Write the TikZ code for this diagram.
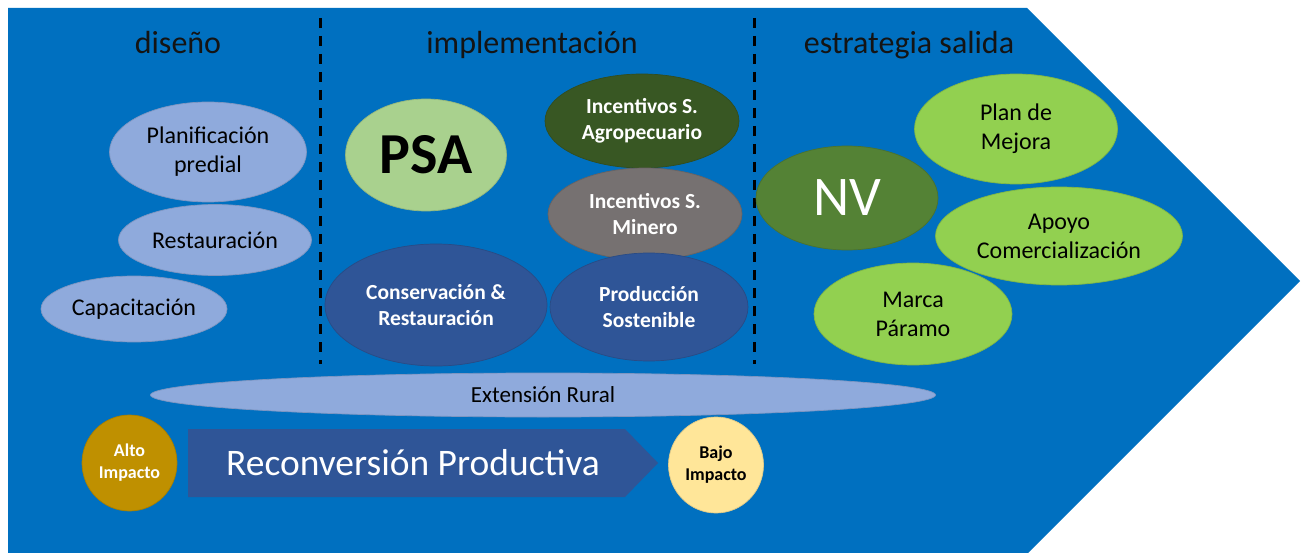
\documentclass[tikz,border=0pt]{standalone}
\usepackage{fontspec}
\setmainfont{Carlito}
\usetikzlibrary{shapes.geometric}
\definecolor{bgblue}{HTML}{0070C0}
\definecolor{lblue}{HTML}{8FAADC}
\definecolor{psagreen}{HTML}{A9D18E}
\definecolor{agrogreen}{HTML}{385723}
\definecolor{mingray}{HTML}{767171}
\definecolor{dblue}{HTML}{2F5597}
\definecolor{nvgreen}{HTML}{548235}
\definecolor{lgreen}{HTML}{92D050}
\definecolor{altogold}{HTML}{BF9000}
\definecolor{bajoyel}{HTML}{FFE699}
\newcommand\fz[2]{\fontsize{#1}{#2}\selectfont}
\begin{document}
\begin{tikzpicture}[x=1pt,y=-1pt,
  ov/.style={ellipse, inner sep=0pt, align=center, fill=#1, draw=#1!88!black, line width=0.7pt},
  ttl/.style={font=\fz{32}{38}, text=black!92},
  reg/.style={font=\fz{24}{29}, text=black},
  bw/.style={font=\fz{21.5}{26}\bfseries, text=white},
  sepline/.style={draw=black, line width=3pt, dash pattern=on 10pt off 8pt}]
\useasboundingbox (0,0) rectangle (1305,553);
% chevron background
\fill[bgblue] (8,8) -- (1027,8) -- (1300,281) -- (1028,553) -- (8,553) -- cycle;
% titles
\node[ttl] (tdis) at (178,43) {diseño};
\node[ttl] (timp) at (532,45) {implementación};
\node[ttl] (test) at (909,45) {estrategia salida};
% separators
\coordinate (s1t) at (320,18); \coordinate (s1b) at (320,364);
\coordinate (s2t) at (754,18); \coordinate (s2b) at (754,364);
\draw[sepline] (s1t) -- (s1b);
\draw[sepline] (s2t) -- (s2b);
% diseño
\node[ov=lblue, reg, minimum width=197pt, minimum height=100pt] (plan) at (208,152) {Planificación\\predial};
\node[ov=lblue, reg, minimum width=193pt, minimum height=71pt] (rest) at (215,240) {Restauración};
\node[ov=lblue, reg, minimum width=186pt, minimum height=66pt] (capa) at (134,309) {Capacitación};
% implementación
\node[ov=psagreen, font=\fz{58}{60}\bfseries, text=black, minimum width=161pt, minimum height=112pt] (psa) at (426,155) {PSA};
\node[ov=agrogreen, bw, minimum width=194pt, minimum height=94pt] (agro) at (642,121) {Incentivos S.\\Agropecuario};
\node[ov=mingray, bw, minimum width=194pt, minimum height=92pt] (mine) at (645,214) {Incentivos S.\\Minero};
\node[ov=dblue, bw, minimum width=222pt, minimum height=122pt] (cons) at (436,305) {Conservación \&\\Restauración};
\node[ov=dblue, bw, minimum width=198pt, minimum height=108pt] (prod) at (649,307) {Producción\\Sostenible};
% estrategia salida
\node[ov=nvgreen, font=\fz{56}{60}, text=white, minimum width=182pt, minimum height=104pt] (nv) at (847,198) {NV};
\node[ov=lgreen, reg, minimum width=203pt, minimum height=110pt] (plm) at (1016,129) {Plan de\\Mejora};
\node[ov=lgreen, reg, minimum width=198pt, minimum height=102pt] (marca) at (913,314) {Marca\\Páramo};
\node[ov=lgreen, reg, minimum width=247pt, minimum height=98pt] (apoyo) at (1059,236) {Apoyo\\Comercialización};
% extensión rural
\node[ov=lblue, font=\fz{23}{28}, text=black, minimum width=785pt, minimum height=44pt] (ext) at (543,395) {Extensión Rural};
% reconversión
\fill[dblue] (188,429) -- (625,429) -- (658,463) -- (625,497) -- (188,497) -- cycle;
\node[font=\fz{37.5}{40}, text=white] (reco) at (413,463) {Reconversión Productiva};
\node[ov=altogold, font=\fz{18}{22}\bfseries, text=white, minimum width=95pt, minimum height=96pt] (alto) at (129.5,463) {Alto\\Impacto};
\node[ov=bajoyel, font=\fz{18}{22}\bfseries, text=black, minimum width=95pt, minimum height=96pt] (bajo) at (716,465) {Bajo\\Impacto};
\end{tikzpicture}
\end{document}
